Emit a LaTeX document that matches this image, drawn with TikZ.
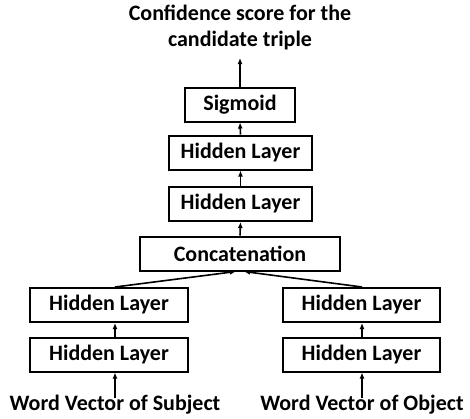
\documentclass[tikz,border=0pt]{standalone}
\usepackage{fontspec}
\setmainfont{Carlito}
\usetikzlibrary{arrows.meta}
\begin{document}
\begin{tikzpicture}[x=1pt,y=-1pt,
  layer/.style={draw,line width=2pt,minimum height=34pt,inner sep=0pt,font=\bfseries\fontsize{22}{26}\selectfont},
  lbl/.style={font=\bfseries\fontsize{22}{26}\selectfont,inner sep=0pt,align=center},
  arr/.style={line width=1.6pt,-{Latex[length=6pt,width=5pt]}}]
\useasboundingbox (0,0) rectangle (470,418);
\node[lbl] (title) at (240,27) {Confidence score for the\\candidate triple};
\node[layer,minimum width=110pt] (sig) at (240,104.5) {Sigmoid};
\node[layer,minimum width=143pt] (h1) at (240.5,152.5) {Hidden Layer};
\node[layer,minimum width=143pt] (h2) at (240.5,204) {Hidden Layer};
\node[layer,minimum width=200pt] (cat) at (240,253.5) {Concatenation};
\node[layer,minimum width=158pt] (ls2) at (109,305) {Hidden Layer};
\node[layer,minimum width=158pt] (ls1) at (109,354.5) {Hidden Layer};
\node[layer,minimum width=157pt] (ro2) at (361.5,305) {Hidden Layer};
\node[layer,minimum width=157pt] (ro1) at (361.5,354.5) {Hidden Layer};
\node[lbl] (ws) at (115,405) {Word Vector of Subject};
\node[lbl] (wo) at (362,405) {Word Vector of Object};
\coordinate (tt) at (240,58);
\draw[arr] (sig.north) -- (tt);
\draw[arr] (h1.north) -- (sig.south);
\draw[arr] (h2.north) -- (h1.south);
\draw[arr] (cat.north) -- (h2.south);
\draw[arr] (ls2.north -| ws.north) -- ([xshift=-4pt]cat.south);
\draw[arr] (ro2.north -| wo.north) -- ([xshift=4pt]cat.south);
\draw[arr] (ls1.north -| ws.north) -- (ls2.south -| ws.north);
\draw[arr] (ro1.north -| wo.north) -- (ro2.south -| wo.north);
\draw[arr] ([yshift=-3pt]ws.north) -- (ls1.south -| ws.north);
\draw[arr] ([yshift=-3pt]wo.north) -- (ro1.south -| wo.north);
\end{tikzpicture}
\end{document}
